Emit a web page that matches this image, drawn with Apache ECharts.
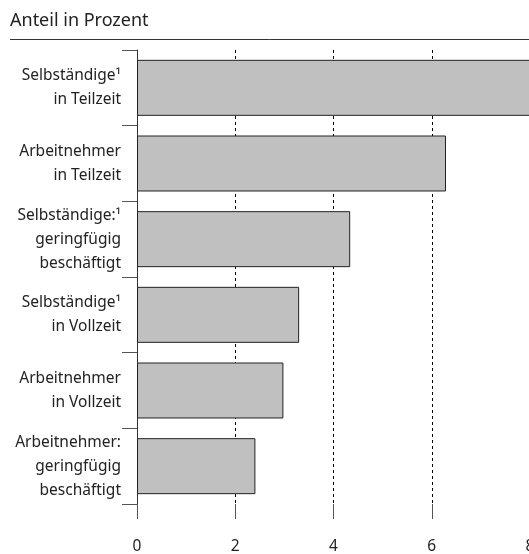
<!DOCTYPE html>
<html>
<head>
<meta charset="utf-8">
<script src="https://cdn.jsdelivr.net/npm/echarts@6/dist/echarts.min.js"></script>
<style>html,body{margin:0;padding:0;background:#fff}#c{width:529px;height:554px}</style>
</head>
<body>
<div id="c"></div>
<script>
const categories = [
  "Selbständige¹\nin Teilzeit",
  "Arbeitnehmer\nin Teilzeit",
  "Selbständige:¹\ngeringfügig\nbeschäftigt",
  "Selbständige¹\nin Vollzeit",
  "Arbeitnehmer\nin Vollzeit",
  "Arbeitnehmer:\ngeringfügig\nbeschäftigt"
];
const values = [8.1, 6.29, 4.34, 3.30, 2.98, 2.41];
const xTicks = [0, 2, 4, 6, 8];
const subtitle = "Anteil in Prozent";

const FONT = "Noto Sans";
const chart = echarts.init(document.getElementById('c'), null, {renderer: 'canvas'});
chart.setOption({
  animation: false,
  backgroundColor: '#fff',
  textStyle: {fontFamily: FONT},
  grid: {left: 137, width: 393, top: 50, bottom: 50, containLabel: false, outerBoundsMode: 'none'},
  xAxis: {
    type: 'value', min: xTicks[0], max: xTicks[xTicks.length - 1], interval: 2,
    axisLine: {show: false},
    axisTick: {show: true, length: 15, lineStyle: {color: '#555', width: 1}},
    axisLabel: {margin: 35, fontSize: 15.5, color: '#222', fontFamily: FONT, hideOverlap: false},
    splitLine: {show: true, lineStyle: {color: '#000', type: [3, 3], width: 1}}
  },
  yAxis: {
    type: 'category', data: categories, inverse: true,
    axisLine: {show: true, lineStyle: {color: '#333', width: 1}},
    axisTick: {show: true, length: 15, lineStyle: {color: '#555', width: 1}},
    axisLabel: {margin: 16, fontSize: 15.5, lineHeight: 24, color: '#222', align: 'right', fontFamily: FONT},
    splitLine: {show: false}
  },
  series: [{
    type: 'bar', data: values, barCategoryGap: '26%', clip: true,
    itemStyle: {color: '#c0c0c0', borderColor: '#222', borderWidth: 1}
  }],
  graphic: [
    {type: 'text', left: 10, top: 12, style: {text: subtitle, font: '18px "Noto Sans"', fill: '#222'}},
    {type: 'line', shape: {x1: 10, y1: 39.5, x2: 529, y2: 39.5}, style: {stroke: '#333', lineWidth: 1}}
  ]
});
</script>
</body>
</html>
